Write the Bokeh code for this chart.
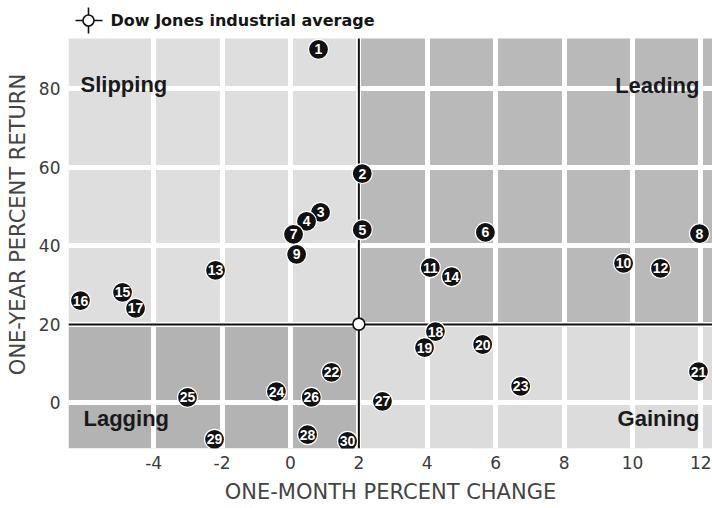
from bokeh.plotting import figure
from bokeh.models import Range1d, Label, FixedTicker
from bokeh.embed import file_html
from bokeh.resources import INLINE
from bokeh.core.properties import value

# ---------------- data ----------------
stock_ids = [str(i) for i in range(1, 31)]
month_change = [0.82, 2.1, 0.88, 0.47, 2.1, 5.7, 0.09, 11.96, 0.18, 9.74,
                4.09, 10.82, -2.19, 4.71, -4.91, -6.14, -4.53, 4.24, 3.92, 5.62,
                11.93, 1.2, 6.73, -0.41, -3.01, 0.61, 2.69, 0.5, -2.22, 1.67]
year_return = [90.1, 58.4, 48.5, 46.2, 44.1, 43.4, 42.9, 43.1, 37.8, 35.5,
               34.4, 34.2, 33.7, 32.1, 28.1, 26.0, 24.0, 18.1, 14.0, 14.8,
               7.9, 7.7, 4.1, 2.8, 1.3, 1.3, 0.3, -8.2, -9.4, -9.9]
dow_month = [2.0]
dow_year = [20.0]
x_ticks = [-4, -2, 0, 2, 4, 6, 8, 10, 12]
y_ticks = [0, 20, 40, 60, 80]
quadrant_names = ["Slipping", "Leading", "Lagging", "Gaining"]
quadrant_colors = ["#dedede", "#b9b9b9", "#b3b3b3", "#dcdcdc"]
legend_label = "Dow Jones industrial average"
x_title = "ONE-MONTH PERCENT CHANGE"
y_title = "ONE-YEAR PERCENT RETURN"

# ---------------- geometry ----------------
W, H = 712, 508
BORDER_L, BORDER_B = 68, 60
FRAME_W, FRAME_H = W - BORDER_L, H - BORDER_B
X0, X1 = -6.49, 12.34         # tiled area, horizontally
Y0, TILE_TOP = -11.73, 92.86  # tiled area, vertically
PX_PER_Y = 3.92
Y1 = Y0 + FRAME_H / PX_PER_Y  # white legend band above the tiles
PX_PER_X = FRAME_W / (X1 - X0)

def sx(px):   # screen px from frame left -> data x
    return X0 + px / PX_PER_X

def sy(px):   # screen px above tile top -> data y
    return TILE_TOP + px / PX_PER_Y

p = figure(width=W, height=H, x_range=Range1d(X0, X1), y_range=Range1d(Y0, Y1),
           output_backend="svg", toolbar_location=None,
           min_border_left=BORDER_L, min_border_right=0, min_border_top=0,
           min_border_bottom=BORDER_B)
p.outline_line_color = None
p.background_fill_color = "white"
p.border_fill_color = "white"
p.grid.visible = False

dx, dy = dow_month[0], dow_year[0]
p.quad(left=[X0, dx, X0, dx], right=[dx, X1, dx, X1],
       bottom=[dy, dy, Y0, Y0], top=[TILE_TOP, TILE_TOP, dy, dy],
       fill_color=quadrant_colors, line_color=None)

p.vspan(x=x_ticks, line_color="white", line_width=5)
p.hspan(y=y_ticks, line_color="white", line_width=5)
p.segment(x0=dow_month, y0=[Y0], x1=dow_month, y1=[TILE_TOP],
          line_color="#111111", line_width=2)
p.hspan(y=dow_year, line_color="#111111", line_width=2)

p.scatter(x=dow_month, y=dow_year, size=12, marker="circle",
          fill_color="white", line_color="#111111", line_width=1.6)

p.scatter(x=month_change, y=year_return, size=20, marker="circle",
          fill_color="#111111", line_color="white", line_width=1.2)
p.text(x=month_change, y=year_return, text=stock_ids,
       text_font=value("Liberation Sans"), text_font_style="bold",
       text_font_size="14px", text_color="white",
       text_align="center", text_baseline="middle")

# ---------------- legend row (white band above tiles) ----------------
icon_x, icon_y = sx(20), sy(18)
p.segment(x0=[sx(7), icon_x], y0=[icon_y, sy(5)], x1=[sx(34), icon_x], y1=[icon_y, sy(31)],
          line_color="#111111", line_width=1.6)
p.scatter(x=[icon_x], y=[icon_y], size=11, marker="circle", fill_color="white",
          line_color="#111111", line_width=1.6)
p.text(x=[sx(42)], y=[icon_y], text=[legend_label], text_font=value("DejaVu Sans"),
       text_font_style="bold", text_font_size="16px", text_color="#151515",
       text_align="left", text_baseline="middle")

# ---------------- quadrant labels ----------------
qfont = dict(text_font="Liberation Sans", text_font_style="bold",
             text_font_size="22px", text_color="#1a1a1a", text_baseline="middle")
p.add_layout(Label(x=X0, y=TILE_TOP, x_offset=12, y_offset=-46, text=quadrant_names[0],
                   text_align="left", **qfont))
p.add_layout(Label(x=X1, y=TILE_TOP, x_offset=-13, y_offset=-47, text=quadrant_names[1],
                   text_align="right", **qfont))
p.add_layout(Label(x=X0, y=Y0, x_offset=15, y_offset=30, text=quadrant_names[2],
                   text_align="left", **qfont))
p.add_layout(Label(x=X1, y=Y0, x_offset=-13, y_offset=30, text=quadrant_names[3],
                   text_align="right", **qfont))

# ---------------- axes ----------------
for ax, ticks in ((p.xaxis, x_ticks), (p.yaxis, y_ticks)):
    ax.ticker = FixedTicker(ticks=ticks)
    ax.major_label_overrides = {t: str(t) for t in ticks}
    ax.axis_line_color = None
    ax.major_tick_line_color = None
    ax.minor_tick_line_color = None
    ax.major_label_text_font = "DejaVu Sans"
    ax.major_label_text_font_size = "17px"
    ax.major_label_text_color = "#3a3a3a"
    ax.axis_label_text_font = "DejaVu Sans"
    ax.axis_label_text_font_size = "21px"
    ax.axis_label_text_font_style = "normal"
    ax.axis_label_text_color = "#444444"

p.xaxis.axis_label = x_title
p.yaxis.axis_label = y_title
p.xaxis.major_label_standoff = 1
p.xaxis.axis_label_standoff = 8
p.yaxis.major_label_standoff = 2
p.yaxis.axis_label_standoff = 6

open("out.html", "w").write(file_html(p, INLINE))
